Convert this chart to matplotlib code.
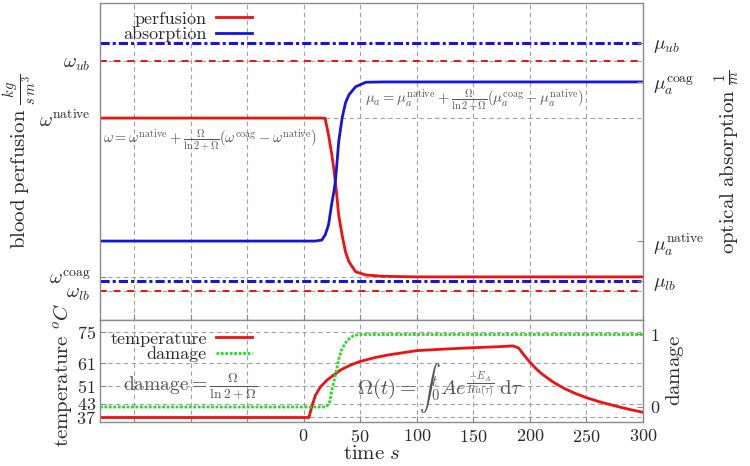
import matplotlib
matplotlib.use("Agg")
import matplotlib.pyplot as plt

plt.rcParams['font.family'] = ['cmr10', 'DejaVu Serif']
plt.rcParams['mathtext.fontset'] = 'cm'
plt.rcParams['axes.formatter.use_mathtext'] = True
plt.rcParams['axes.unicode_minus'] = False

# ---------------- data ----------------
# top panel (arbitrary units, left: perfusion, right: absorption)
time_top = [-180, 0, 10, 16, 19, 22, 25, 27, 28, 29, 31, 34, 37, 40, 46, 55, 70, 100, 300]
perfusion = [6.37, 6.37, 6.37, 6.37, 6.36, 5.84, 5.20, 4.68, 4.36, 4.05, 3.31, 2.68, 2.15, 1.84, 1.52, 1.42, 1.38, 1.36, 1.36]
absorption = [2.49, 2.49, 2.49, 2.52, 2.68, 3.00, 3.70, 4.10, 4.36, 4.75, 5.62, 6.37, 6.85, 7.10, 7.36, 7.50, 7.51, 7.51, 7.51]

omega_ub, omega_native, omega_coag, omega_lb = 8.17, 6.37, 1.36, 0.91
mu_ub, mu_coag, mu_native, mu_lb = 8.74, 7.51, 2.49, 1.23
omega_ticklabels = [r'$\omega_{ub}$', r'$\omega^{\mathrm{native}}$', r'$\omega^{\mathrm{coag}}$', r'$\omega_{lb}$']
mu_ticklabels = [r'$\mu_{ub}$', r'$\mu_a^{\mathrm{coag}}$', r'$\mu_a^{\mathrm{native}}$', r'$\mu_{lb}$']

# bottom panel
time_temp = [-180, 0, 4.7, 7.6, 10.6, 15, 20.9, 26.8, 32.6, 41.5, 50, 63, 75, 100, 125, 150, 175, 185, 190,
             195, 200, 205, 210, 220, 230, 240, 250, 262, 275, 287, 300]
temperature = [37, 37, 37, 42.6, 47.0, 50.7, 53.7, 55.9, 58.1, 60.3, 61.9, 63.6, 64.8, 66.7, 67.4, 68.0, 68.5, 68.8, 67.9,
               64.6, 61.6, 58.9, 56.6, 52.9, 50.0, 47.7, 45.8, 43.9, 42.2, 40.7, 39.3]
time_dmg = [-180, 0, 20, 23, 25.3, 28.2, 31.2, 34.1, 38.5, 44.4, 50, 300]
damage = [0, 0, 0, 0.07, 0.26, 0.44, 0.67, 0.81, 0.92, 0.99, 1.0, 1.0]

temp_ticks = [37, 43, 51, 61, 75]
dmg_ticks = [0, 1]
x_ticks = [-150, -100, -50, 0, 50, 100, 150, 200, 250, 300]

# ---------------- style ----------------
RED = '#ee1111'
BLUE = '#1515dd'
GREEN = '#22dd22'
SPINE = '#8a8a8a'
GRID = '#a0a0a0'
TXT = '#2a2a2a'
ANN = '#555555'

W, H = 750, 466
fig = plt.figure(figsize=(7.5, 4.66), dpi=100)
L, R = 100 / W, 643 / W
AW = 543
ax = fig.add_axes([L, (H - 320) / H, R - L, 317 / H])
axb = fig.add_axes([L, (H - 422) / H, R - L, 102 / H])

for a in (ax, axb):
    for s in a.spines.values():
        s.set_color(SPINE)
        s.set_linewidth(1.0)
    a.set_xlim(-180, 300)
    a.set_xticks(x_ticks)
    a.grid(True, axis='x', color=GRID, linestyle=(0, (4, 3)), linewidth=0.8)
    a.tick_params(direction='in', color=SPINE, length=4, labelcolor=TXT, labelsize=13)
    a.set_axisbelow(True)

# ---------------- top panel ----------------
ax.set_ylim(0, 10)
ax.set_yticks([omega_ub, omega_native, omega_coag, omega_lb])
ax.set_yticklabels(omega_ticklabels, fontsize=14)
ax.tick_params(axis='y', pad=7)
ax.grid(True, axis='y', color=GRID, linestyle=(0, (4, 3)), linewidth=0.8)
ax.tick_params(axis='x', labelbottom=False)

ax.axhline(omega_ub, color=RED, linestyle=(0, (3.5, 3.5)), linewidth=1.4)
ax.axhline(omega_lb, color=RED, linestyle=(0, (3.5, 3.5)), linewidth=1.4)
ax.axhline(mu_ub, color=BLUE, linestyle=(0, (3, 1, 1, 1)), linewidth=2.2)
ax.axhline(mu_lb, color=BLUE, linestyle=(0, (3, 1, 1, 1)), linewidth=2.2)
lp, = ax.plot(time_top, perfusion, color=RED, linewidth=2.0, label='perfusion')
la, = ax.plot(time_top, absorption, color=BLUE, linewidth=2.0, label='absorption')

ax2 = ax.twinx()
ax2.set_ylim(0, 10)
ax2.set_yticks([mu_ub, mu_coag, mu_native, mu_lb])
ax2.set_yticklabels(mu_ticklabels, fontsize=14)
ax2.tick_params(direction='in', color=SPINE, length=4, labelcolor=TXT, pad=7)
for s in ax2.spines.values():
    s.set_visible(False)

ax.set_ylabel(r'$\mathrm{blood\ perfusion}\ \frac{kg}{s\,m^3}$', fontsize=15, color=TXT,
              va='center', ha='center')
ax.yaxis.set_label_coords((20 - 100) / AW, 0.5)
ax2.set_ylabel(r'$\mathrm{optical\ absorption}\ \frac{1}{m}$', fontsize=15, color=TXT,
               va='center', ha='center')
ax2.yaxis.set_label_coords((728 - 100) / AW, 0.5)

leg = ax.legend(handles=[lp, la], loc='upper right', bbox_to_anchor=(252 / W, (H - 11) / H),
                bbox_transform=fig.transFigure, frameon=False, markerfirst=False,
                fontsize=13, handlelength=2.0, handletextpad=0.5, labelspacing=0.0,
                borderpad=0, borderaxespad=0)
for t in leg.get_texts():
    t.set_color(TXT)

ax.text(3 / AW, (320 - 140) / 317,
        r'$\omega = \omega^{\mathrm{native}} + \frac{\Omega}{\ln 2+\Omega}(\omega^{\mathrm{coag}} - \omega^{\mathrm{native}})$',
        transform=ax.transAxes, fontsize=10.5, color=ANN, ha='left', va='center')
ax.text((365 - 100) / AW, (320 - 100) / 317,
        r'$\mu_a = \mu_a^{\mathrm{native}} + \frac{\Omega}{\ln 2+\Omega}(\mu_a^{\mathrm{coag}} - \mu_a^{\mathrm{native}})$',
        transform=ax.transAxes, fontsize=10.5, color=ANN, ha='left', va='center')

# ---------------- bottom panel ----------------
axb.set_ylim(35, 80.3)
axb.set_yticks(temp_ticks)
axb.set_yticklabels([r'$%d$' % v for v in temp_ticks], fontsize=13)
axb.grid(True, axis='y', color=GRID, linestyle=(0, (4, 3)), linewidth=0.8)
axb.set_xticklabels(['' if v < 0 else r'$%d$' % v for v in x_ticks], fontsize=13)
axb.tick_params(axis='x', pad=4)
axb.tick_params(axis='y', pad=3)
lt, = axb.plot(time_temp, temperature, color=RED, linewidth=2.0, label='temperature')

axb2 = axb.twinx()
axb2.set_ylim(-0.207, 1.2)
axb2.set_yticks(dmg_ticks)
axb2.set_yticklabels([r'$%d$' % v for v in dmg_ticks], fontsize=13)
axb2.tick_params(direction='in', color=SPINE, length=4, labelcolor=TXT, pad=5)
for s in axb2.spines.values():
    s.set_visible(False)
ld, = axb2.plot(time_dmg, damage, color=GREEN, linewidth=2.0, linestyle=(0, (1, 0.6)), label='damage')

axb.set_ylabel(r'$\mathrm{temperature}\ {}^oC$', fontsize=15, color=TXT, va='center', ha='center')
axb.yaxis.set_label_coords((62 - 100) / AW, 0.46)
axb2.set_ylabel(r'$\mathrm{damage}$', fontsize=15, color=TXT, va='center', ha='center')
axb2.yaxis.set_label_coords((675 - 100) / AW, 0.5)
axb.set_xlabel(r'$\mathrm{time}\ s$', fontsize=15, color=TXT, labelpad=0)

legb = axb2.legend(handles=[lt, ld], loc='upper right', bbox_to_anchor=(252 / W, (H - 331) / H),
                   bbox_transform=fig.transFigure, frameon=False, markerfirst=False,
                   fontsize=13, handlelength=2.0, handletextpad=0.5, labelspacing=0.0,
                   borderpad=0, borderaxespad=0)
for t in legb.get_texts():
    t.set_color(TXT)

axb.text((190 - 100) / AW, (422 - 386) / 102, r'$\mathrm{damage}{=}\frac{\Omega}{\ln 2+\Omega}$',
         transform=axb.transAxes, fontsize=14, color=ANN, ha='center', va='center')
axb.text((440 - 100) / AW, (422 - 388) / 102,
         r'$\Omega(t) = \int{}_0^t A e^{\frac{-E_A}{Ru(\tau)}}\,\mathrm{d}\tau$',
         transform=axb.transAxes, fontsize=15, color=ANN, ha='center', va='center')

fig.savefig('out.png', dpi=100)
